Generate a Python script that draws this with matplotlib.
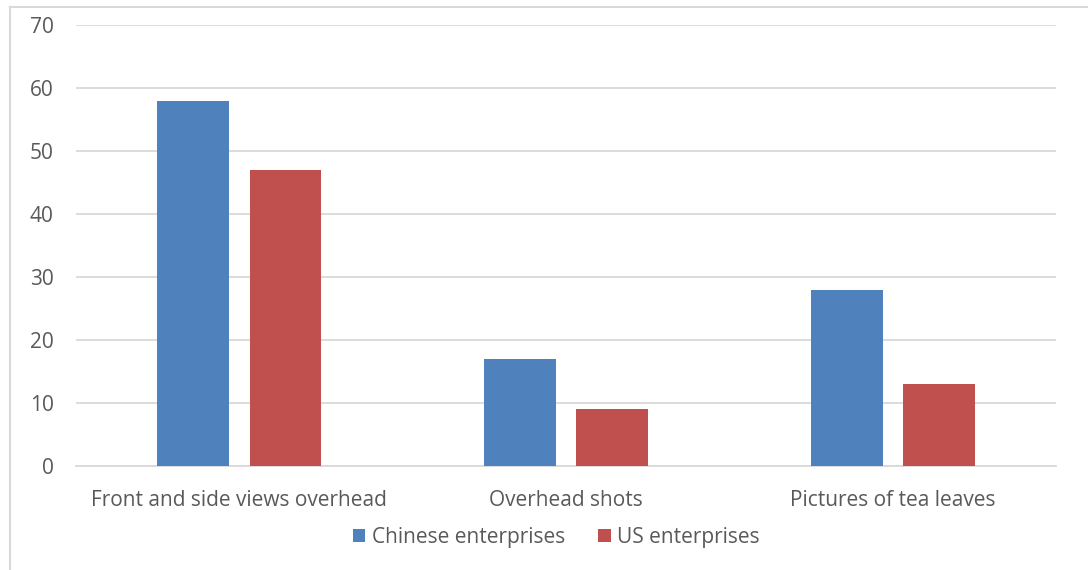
import matplotlib.pyplot as plt
import numpy as np
from matplotlib.lines import Line2D

categories = ['Front and side views overhead', 'Overhead shots', 'Pictures of tea leaves']
chinese = [58, 17, 28]
us = [47, 9, 13]

plt.rcParams['font.family'] = ['Open Sans', 'DejaVu Sans']
txt = '#595959'

fig = plt.figure(figsize=(10.88, 5.7), dpi=100)
ax = fig.add_axes([0.0699, 0.1825, 0.9007, 0.7735])

x = np.arange(len(categories))
w = 0.22
ax.bar(x - 0.141, chinese, w, color='#4F81BD', label='Chinese enterprises', zorder=3)
ax.bar(x + 0.141, us, w, color='#C0504D', label='US enterprises', zorder=3)

ax.set_xlim(-0.5, 2.5)
ax.set_ylim(0, 70)
ax.set_yticks(range(0, 71, 10))
ax.yaxis.grid(True, color='#D9D9D9', linewidth=1.3, zorder=0)
for s in ['top', 'right', 'left']:
    ax.spines[s].set_visible(False)
ax.spines['bottom'].set_color('#D9D9D9')
ax.spines['bottom'].set_linewidth(1.3)
ax.set_xticks(x)
ax.set_xticklabels(categories)
ax.tick_params(axis='both', length=0, labelsize=15, colors=txt)
ax.tick_params(axis='y', pad=16)
ax.tick_params(axis='x', pad=17)

ax.legend(loc='upper center', bbox_to_anchor=(0.49, -0.095), ncol=2, frameon=False,
          fontsize=15, labelcolor=txt, handlelength=0.6, handleheight=0.6,
          handletextpad=0.3, columnspacing=1.6)

# outer chart border (cut off at right and bottom)
fig.add_artist(Line2D([10 / 1088, 1], [1 - 7 / 570, 1 - 7 / 570], color='#D9D9D9', lw=1.5))
fig.add_artist(Line2D([10 / 1088, 10 / 1088], [0, 1 - 7 / 570], color='#D9D9D9', lw=1.5))

fig.savefig('out.png', dpi=100)
